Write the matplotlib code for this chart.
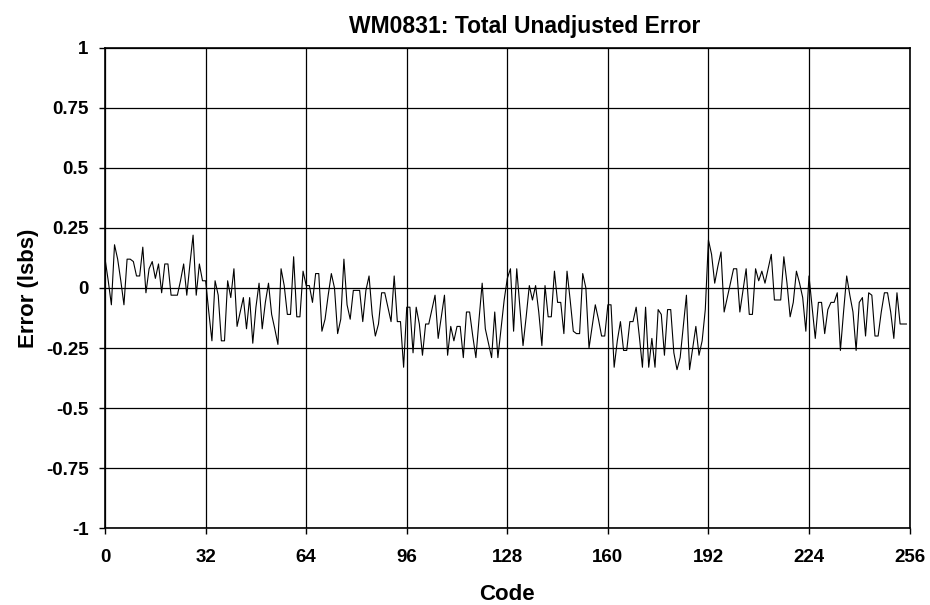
import matplotlib
matplotlib.use("Agg")
import matplotlib.pyplot as plt

# Total unadjusted error per code
codes = list(range(256))
error_lsb = [
    0.12, 0.03, -0.07, 0.18, 0.12, 0.03, -0.07, 0.12, 0.12, 0.11,
    0.05, 0.05, 0.17, -0.02, 0.08, 0.11, 0.04, 0.10, -0.02, 0.10,
    0.10, -0.03, -0.03, -0.03, 0.03, 0.10, -0.03, 0.10, 0.22, -0.03,
    0.10, 0.03, 0.03, -0.10, -0.22, 0.03, -0.03, -0.22, -0.22, 0.03,
    -0.04, 0.08, -0.16, -0.10, -0.04, -0.17, -0.04, -0.23, -0.08, 0.02,
    -0.17, -0.06, 0.02, -0.11, -0.17, -0.235, 0.08, 0.01, -0.11, -0.11,
    0.13, -0.12, -0.12, 0.07, 0.01, 0.01, -0.06, 0.06, 0.06, -0.18,
    -0.13, -0.03, 0.06, 0.00, -0.19, -0.13, 0.12, -0.07, -0.13, -0.01,
    -0.01, -0.01, -0.14, -0.01, 0.05, -0.11, -0.20, -0.15, -0.02, -0.02,
    -0.08, -0.14, 0.05, -0.14, -0.14, -0.33, -0.08, -0.08, -0.27, -0.08,
    -0.15, -0.28, -0.15, -0.15, -0.09, -0.03, -0.21, -0.12, -0.03, -0.28,
    -0.16, -0.22, -0.16, -0.16, -0.29, -0.10, -0.10, -0.20, -0.29, -0.13,
    0.02, -0.17, -0.23, -0.29, -0.10, -0.29, -0.17, -0.05, 0.04, 0.08,
    -0.18, 0.08, -0.08, -0.24, -0.12, 0.01, -0.05, 0.01, -0.10, -0.24,
    0.01, -0.12, -0.12, 0.07, -0.06, -0.06, -0.19, 0.07, -0.05, -0.18,
    -0.19, -0.19, 0.06, 0.00, -0.25, -0.16, -0.07, -0.13, -0.20, -0.20,
    -0.07, -0.07, -0.33, -0.22, -0.14, -0.26, -0.26, -0.14, -0.14, -0.08,
    -0.20, -0.33, -0.08, -0.33, -0.21, -0.33, -0.09, -0.11, -0.28, -0.09,
    -0.09, -0.27, -0.34, -0.29, -0.16, -0.03, -0.34, -0.25, -0.16, -0.28,
    -0.22, -0.09, 0.20, 0.14, 0.02, 0.09, 0.15, -0.10, -0.04, 0.02,
    0.08, 0.08, -0.10, -0.01, 0.08, -0.11, -0.11, 0.08, 0.03, 0.07,
    0.02, 0.08, 0.14, -0.05, -0.05, -0.05, 0.13, 0.02, -0.12, -0.06,
    0.07, 0.02, -0.04, -0.18, 0.05, -0.08, -0.21, -0.06, -0.06, -0.19,
    -0.09, -0.06, -0.06, -0.02, -0.26, -0.10, 0.05, -0.03, -0.10, -0.26,
    -0.06, -0.04, -0.20, -0.02, -0.03, -0.20, -0.20, -0.10, -0.02, -0.02,
    -0.10, -0.21, -0.02, -0.15, -0.15, -0.15,
]

x_ticks = [0, 32, 64, 96, 128, 160, 192, 224, 256]
y_ticks = [1, 0.75, 0.5, 0.25, 0, -0.25, -0.5, -0.75, -1]
y_tick_labels = ["1", "0.75", "0.5", "0.25", "0", "-0.25", "-0.5", "-0.75", "-1"]

plt.rcParams["font.family"] = ["Liberation Sans", "DejaVu Sans"]
plt.rcParams["font.weight"] = "bold"

fig = plt.figure(figsize=(9.3, 6.05), dpi=100)
ax = fig.add_axes([0.113, 0.127, 0.865, 0.794])

ax.plot(codes, error_lsb, color="black", lw=0.8)

ax.set_xlim(0, 256)
ax.set_ylim(-1, 1)
ax.set_xticks(x_ticks)
ax.set_xticklabels([str(t) for t in x_ticks], fontsize=13.5, fontweight="bold")
ax.set_yticks(y_ticks)
ax.set_yticklabels(y_tick_labels, fontsize=13.5, fontweight="bold")
ax.grid(True, color="black", lw=0.9)
ax.tick_params(direction="out", length=4, width=1, color="black")
ax.tick_params(axis="y", pad=8)
ax.tick_params(axis="x", pad=11)
for s in ax.spines.values():
    s.set_color("black")
    s.set_linewidth(1.2)

ax.set_title("WM0831: Total Unadjusted Error", fontsize=16.5, fontweight="bold",
             pad=11, x=0.522)
ax.set_xlabel("Code", fontsize=16, fontweight="bold", labelpad=13)
ax.set_ylabel("Error (lsbs)", fontsize=16, fontweight="bold", labelpad=5)

fig.savefig("out.png", dpi=100)
